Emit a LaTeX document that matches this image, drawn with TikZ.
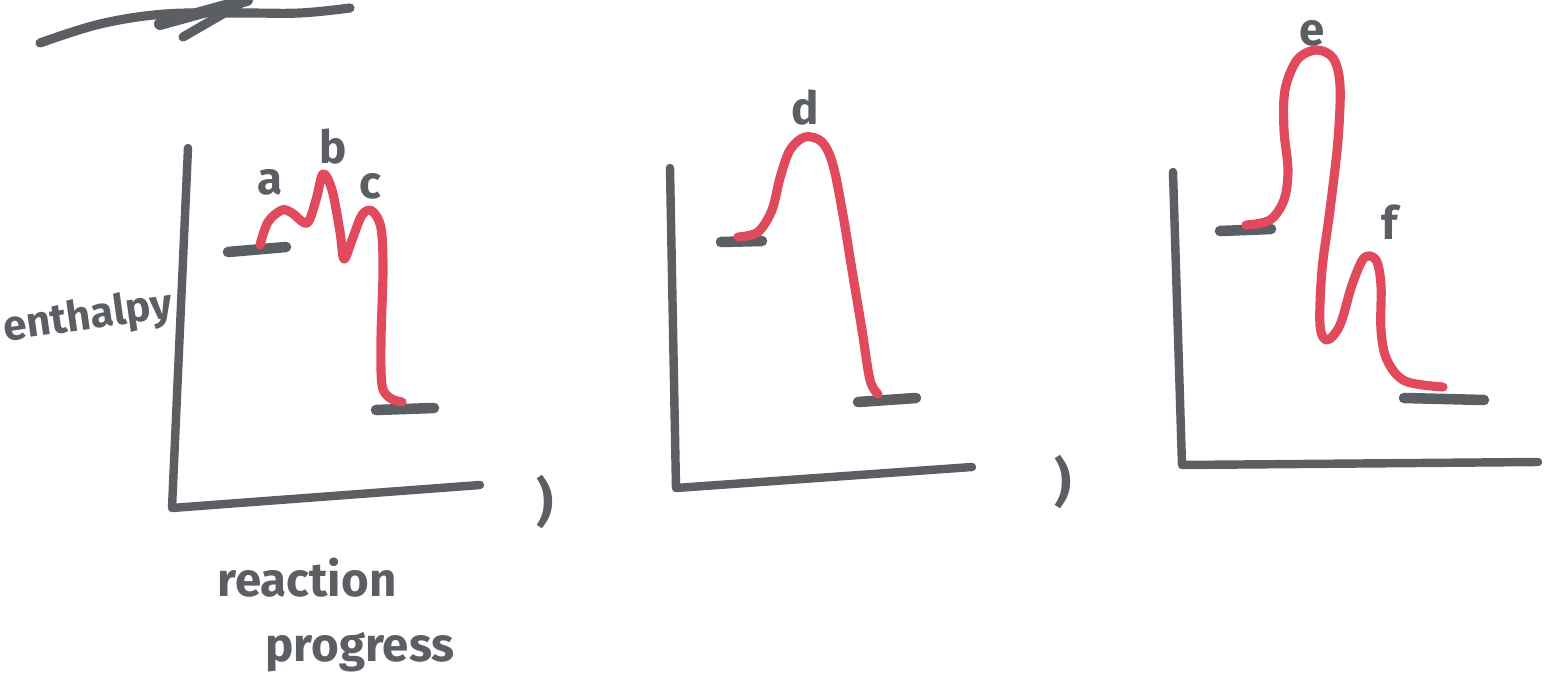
\documentclass[tikz,border=0pt]{standalone}
\usepackage{fontspec}
\setmainfont{Fira Sans}
\definecolor{ink}{HTML}{5B5F63}
\definecolor{redink}{HTML}{E04A5C}
\tikzset{
  axisline/.style={draw=ink, line width=2.4pt, line cap=round, line join=round},
  levelbar/.style={draw=ink, line width=3pt, line cap=round},
  rxn/.style={draw=redink, line width=2.6pt, line cap=round, line join=round},
  lbl/.style={text=ink, font=\fontsize{13}{15}\selectfont\bfseries, inner sep=0pt},
  word/.style={text=ink, font=\fontsize{13.5}{16}\selectfont\bfseries, inner sep=0pt},
}
\begin{document}
\begin{tikzpicture}[x=0.01cm, y=-0.01cm]
\useasboundingbox (0,0) rectangle (1544,688);
% scribble at top-left
\draw[axisline, line width=2.6pt] plot[smooth, tension=0.6] coordinates {(40,43) (100,24) (165,14) (240,13) (300,13) (350,8)};
\draw[axisline, line width=3.4pt] (160,24) -- (247,0);
\draw[axisline, line width=2.6pt] (183,37) -- (240,4);

% ---------- graph 1 ----------
\coordinate (o1) at (172,508);
\coordinate (y1) at (188,148);
\coordinate (x1) at (480,485);
\draw[axisline] (y1) -- (o1) -- (x1);
\coordinate (r1a) at (228,252); \coordinate (r1b) at (286,247);
\coordinate (p1a) at (376,410); \coordinate (p1b) at (434,408);
\draw[levelbar] (r1a) -- (r1b);
\draw[levelbar] (p1a) -- (p1b);
\draw[rxn] plot[smooth, tension=0.55] coordinates {(260,245) (268,222) (282,210) (292,213) (307,223) (316,200) (323,174) (332,190) (340,232) (344,259) (352,240) (362,215) (372,211) (381,228) (383,270) (381,340) (382,385) (390,398) (402,402)};
\node[lbl] (la) at (270,182) {a};
\node[lbl] (lb) at (333,147) {b};
\node[lbl] (lc) at (370,186) {c};
\node[word, font=\fontsize{12}{14}\selectfont\bfseries, rotate=8] (enth) at (88,318) {enthalpy};
\node[word] (react) at (307,578) {reaction};
\node[word] (prog) at (360,652) {progress};
\node[lbl, font=\fontsize{15}{17}\selectfont\bfseries] (comma1) at (545,502) {)};

% ---------- graph 2 ----------
\coordinate (o2) at (676,488);
\coordinate (y2) at (670,168);
\coordinate (x2) at (972,467);
\draw[axisline] (y2) -- (o2) -- (x2);
\coordinate (r2a) at (721,242); \coordinate (r2b) at (762,241);
\coordinate (p2a) at (858,402); \coordinate (p2b) at (916,398);
\draw[levelbar] (r2a) -- (r2b);
\draw[levelbar] (p2a) -- (p2b);
\draw[rxn] plot[smooth, tension=0.55] coordinates {(738,237) (758,232) (772,210) (780,178) (790,150) (805,137) (822,142) (833,165) (843,215) (852,270) (862,330) (870,380) (878,394)};
\node[lbl] (ld) at (805,108) {d};
\node[lbl, font=\fontsize{15}{17}\selectfont\bfseries] (comma2) at (1063,482) {)};

% ---------- graph 3 ----------
\coordinate (o3) at (1182,465);
\coordinate (y3) at (1173,172);
\coordinate (x3) at (1538,462);
\draw[axisline] (y3) -- (o3) -- (x3);
\coordinate (r3a) at (1220,231); \coordinate (r3b) at (1271,229);
\coordinate (p3a) at (1404,398); \coordinate (p3b) at (1484,400);
\draw[levelbar] (r3a) -- (r3b);
\draw[levelbar] (p3a) -- (p3b);
\draw[rxn] plot[smooth, tension=0.55] coordinates {(1246,225) (1270,220) (1284,200) (1288,170) (1284,130) (1285,90) (1297,60) (1316,50) (1333,58) (1340,85) (1338,140) (1330,210) (1322,270) (1320,325) (1327,340) (1340,325) (1352,285) (1364,258) (1376,260) (1381,285) (1381,330) (1387,360) (1405,381) (1443,387)};
\node[lbl] (le) at (1312,33) {e};
\node[lbl] (lf) at (1390,222) {f};
\end{tikzpicture}
\end{document}
